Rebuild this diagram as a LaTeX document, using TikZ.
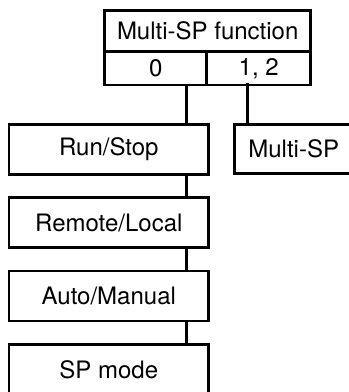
\documentclass[tikz,border=0pt]{standalone}
\usepackage{fontspec}
\setmainfont{TeX Gyre Heros}
\usetikzlibrary{calc}
\tikzset{
  blk/.style={
    rectangle, draw=black, line width=2.6pt,
    minimum width=199.5pt, minimum height=50pt,
    inner sep=0pt, align=center, fill=white,
    font=\fontsize{24}{28}\selectfont
  },
  cell/.style={blk, minimum height=33pt},
  wire/.style={line width=2.6pt},
}
\begin{document}
\begin{tikzpicture}[x=1pt, y=-1pt]
\clip (0,0) rectangle (349,392);

%% ── Top: Multi-SP function with its two settings ─────────────────────────────
\node[blk, minimum width=206pt, minimum height=41.5pt] (MSF) at (207.7, 31.0) {Multi-SP function};
\node[cell, minimum width=102pt] (SET0)  at (155.7, 68.3) {0};
\node[cell, minimum width=104pt] (SET12) at (258.7, 68.3) {1, 2};

%% ── Left column: chain of functions ─────────────────────────────────────────
\node[blk] (RUN)  at (108.8, 149.5) {Run/Stop};
\node[blk] (RMT)  at (108.8, 222.7) {Remote/Local};
\node[blk] (AUTO) at (108.8, 296.0) {Auto/Manual};
\node[blk] (SPM)  at (108.8, 369.5) {SP mode};

%% ── Right: Multi-SP ─────────────────────────────────────────────────────────
\node[blk, minimum width=118pt, minimum height=49pt] (MSP) at (293.7, 149.0) {Multi-SP};

%% ── Taps for the vertical lines ─────────────────────────────────────────────
\coordinate (tapA) at (186.7, 0);
\coordinate (tapB) at (247.3, 0);

%% ── Setting 0 → Run/Stop → Remote/Local → Auto/Manual → SP mode ─────────────
\draw[wire] (SET0.south -| tapA) -- (RUN.north -| tapA);
\draw[wire] (RUN.south -| tapA) -- (RMT.north -| tapA);
\draw[wire] (RMT.south -| tapA) -- (AUTO.north -| tapA);
\draw[wire] (AUTO.south -| tapA) -- (SPM.north -| tapA);

%% ── Setting 1, 2 → Multi-SP ─────────────────────────────────────────────────
\draw[wire] ([yshift=3pt]SET12.south -| tapB) -- (MSP.north -| tapB);

\end{tikzpicture}
\end{document}
